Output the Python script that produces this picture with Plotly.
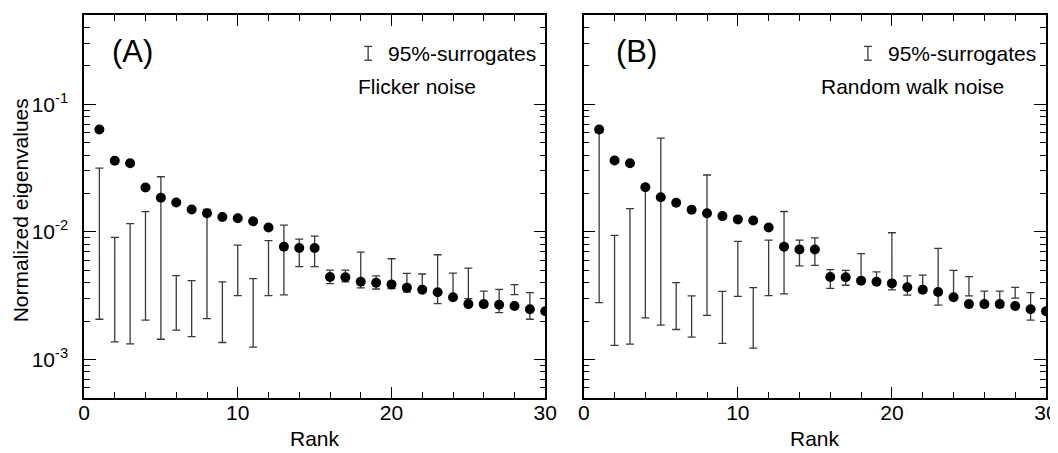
import numpy as np
import plotly.graph_objects as go
from plotly.subplots import make_subplots

rank = list(range(1, 31))

# Panel A: Flicker noise
eig_a = [0.0634, 0.0361, 0.0345, 0.0223, 0.0185, 0.0170, 0.0150, 0.0140, 0.0131, 0.0128,
         0.0121, 0.01083, 0.00766, 0.00748, 0.00748, 0.00443, 0.00441, 0.00407, 0.0040, 0.00388,
         0.00366, 0.00353, 0.00337, 0.00308, 0.00272, 0.00272, 0.00269, 0.00263, 0.00248, 0.00239]
sur_lo_a = [0.00207, 0.001375, 0.001327, 0.00204, 0.001442, 0.001698, 0.001514, 0.00209, 0.00136, 0.00317,
            0.00125, 0.00317, 0.00321, 0.00535, 0.00535, 0.00393, 0.00406, 0.00364, 0.00357, 0.0036,
            0.00338, 0.0034, 0.00274, 0.0030, 0.00300, 0.0026, 0.00233, 0.00323, 0.00207, None]
sur_hi_a = [0.0316, 0.00906, 0.01159, 0.01439, 0.02704, 0.00454, 0.00415, 0.0150, 0.00406, 0.00788,
            0.00430, 0.00853, 0.0113, 0.00879, 0.00927, 0.00502, 0.00502, 0.00695, 0.00452, 0.00616,
            0.00473, 0.00468, 0.00662, 0.00476, 0.00521, 0.00344, 0.00355, 0.00386, 0.00334, None]

# Panel B: Random walk noise
eig_b = [0.0634, 0.0363, 0.0345, 0.0224, 0.0187, 0.0169, 0.0149, 0.0140, 0.0133, 0.01253,
         0.0123, 0.01083, 0.00766, 0.00729, 0.00729, 0.00443, 0.00441, 0.00415, 0.00407, 0.00395,
         0.00368, 0.00353, 0.00338, 0.00308, 0.00272, 0.00272, 0.00272, 0.00263, 0.00248, 0.00239]
sur_lo_b = [0.00279, 0.00129, 0.00132, 0.00212, 0.00186, 0.00172, 0.00150, 0.00222, 0.00134, 0.00313,
            0.00123, 0.00317, 0.00327, 0.00541, 0.00547, 0.00361, 0.00382, 0.0041, 0.0040, 0.00351,
            0.0032, 0.0034, 0.00267, 0.0030, 0.00315, 0.0026, 0.0026, 0.00303, 0.00204, None]
sur_hi_b = [0.060, 0.00940, 0.0152, 0.022, 0.0542, 0.00400, 0.00315, 0.0279, 0.00342, 0.00843,
            0.00366, 0.00863, 0.01445, 0.00863, 0.00899, 0.00506, 0.00500, 0.00675, 0.00486, 0.00985,
            0.00452, 0.00459, 0.00744, 0.00500, 0.00446, 0.00344, 0.00344, 0.00368, 0.00334, None]

panel_labels = ["(A)", "(B)"]
noise_labels = ["Flicker noise", "Random walk noise"]
legend_label = "95%-surrogates"
x_title = "Rank"
y_title = "Normalized eigenvalues"

# page layout (the html body has an 8px margin, so the figure starts at (8, 8))
OFF = 8
W, H = 1058 - OFF, 453 - OFF
left_px, right_px, top_px, bottom_px = 84, 1046.5, 14.7, 397.7
ml = left_px - OFF
mt = top_px - OFF
mr = (W + OFF) - right_px
mb = (H + OFF) - bottom_px
pw = W - ml - mr
ph = H - mt - mb
dA = [0, (545.5 - left_px) / pw]
dB = [(584 - left_px) / pw, 1]

fig = make_subplots(rows=1, cols=2)
FONT = "Liberation Sans, Arial, Helvetica, sans-serif"
BAR_COL = "#3a3a3a"
FS = 21

panels = [(eig_a, sur_lo_a, sur_hi_a), (eig_b, sur_lo_b, sur_hi_b)]
for i, (eig, lo, hi) in enumerate(panels):
    col = i + 1
    minus = [(h - l) if (h is not None and l is not None) else None for h, l in zip(hi, lo)]
    fig.add_trace(go.Scatter(
        x=rank, y=hi, mode="markers",
        marker=dict(size=1, color="rgba(0,0,0,0)"),
        error_y=dict(type="data", symmetric=False, array=[0] * len(rank), arrayminus=minus,
                     color=BAR_COL, thickness=1.3, width=4),
        showlegend=False, hoverinfo="skip"), row=1, col=col)
    fig.add_trace(go.Scatter(
        x=rank, y=eig, mode="markers",
        marker=dict(size=10, color="black", line=dict(width=0)),
        showlegend=False), row=1, col=col)

minor_y = [k * 10.0 ** e for e in range(-4, 0) for k in range(2, 10) if 5e-4 < k * 10.0 ** e < 0.5]

for i, dom in enumerate([dA, dB]):
    xa = "xaxis" if i == 0 else "xaxis2"
    ya = "yaxis" if i == 0 else "yaxis2"
    fig.update_layout(**{
        xa: dict(domain=dom, range=[0, 30], tickvals=[0, 10, 20, 30], ticks="inside",
                 ticklen=11, tickwidth=1.2, tickcolor="black", showline=True, linecolor="black",
                 linewidth=1.5, mirror="ticks", showgrid=False, zeroline=False, automargin=False,
                 minor=dict(tickvals=list(range(2, 30, 2)), ticks="inside", ticklen=6,
                            tickwidth=1.2, tickcolor="black", showgrid=False),
                 tickfont=dict(size=FS, color="black", family=FONT),
                 ticklabelstandoff=-5),
        ya: dict(domain=[0, 1], type="log", range=[np.log10(5e-4), np.log10(0.5)],
                 tickvals=[1e-3, 1e-2, 1e-1],
                 ticktext=["10<sup>-3</sup>", "10<sup>-2</sup>", "10<sup>-1</sup>"],
                 ticks="inside", ticklen=12, tickwidth=1.2, tickcolor="black",
                 showline=True, linecolor="black", linewidth=1.5, mirror="ticks",
                 showgrid=False, zeroline=False, showticklabels=(i == 0), automargin=False,
                 minor=dict(tickvals=minor_y, ticks="inside", ticklen=6, tickwidth=1.2,
                            tickcolor="black", showgrid=False),
                 tickfont=dict(size=FS, color="black", family=FONT),
                 ticklabelstandoff=10),
    })

# axis titles (positions given in page pixels)
fig.add_annotation(x=(20 - left_px) / pw, y=(bottom_px - 210) / ph, xref="paper", yref="paper",
                   text=y_title, textangle=-90, showarrow=False, xanchor="center", yanchor="middle",
                   font=dict(size=FS, color="black", family=FONT))
for i, dom in enumerate([dA, dB]):
    fig.add_annotation(x=(dom[0] + dom[1]) / 2, y=-(438 - bottom_px) / ph, xref="paper", yref="paper",
                       text=x_title, showarrow=False, xanchor="center", yanchor="middle",
                       font=dict(size=FS, color="black", family=FONT))

for i in range(2):
    xr = "x domain" if i == 0 else "x2 domain"
    yr = "y domain" if i == 0 else "y2 domain"
    fig.add_annotation(x=[0.0557, 0.0664][i], y=0.904, xref=xr, yref=yr, text=panel_labels[i],
                       showarrow=False, xanchor="left", yanchor="middle",
                       font=dict(size=31, color="black", family=FONT))
    icon_x = [0.616, 0.6147][i]
    fig.add_shape(type="line", xref=xr, yref=yr, x0=icon_x, x1=icon_x, y0=0.882, y1=0.918,
                  line=dict(color=BAR_COL, width=1.3))
    for yy in (0.882, 0.918):
        fig.add_shape(type="line", xref=xr, yref=yr, x0=icon_x - 0.0085, x1=icon_x + 0.0085,
                      y0=yy, y1=yy, line=dict(color=BAR_COL, width=1.3))
    fig.add_annotation(x=[0.654, 0.653][i], y=0.899, xref=xr, yref=yr, text=legend_label,
                       showarrow=False, xanchor="left", yanchor="middle",
                       font=dict(size=FS, color="black", family=FONT))
    fig.add_annotation(x=[0.589, 0.510][i], y=0.814, xref=xr, yref=yr, text=noise_labels[i],
                       showarrow=False, xanchor="left", yanchor="middle",
                       font=dict(size=FS, color="black", family=FONT))

fig.update_layout(width=W, height=H, margin=dict(l=ml, r=mr, t=mt, b=mb, autoexpand=False),
                  paper_bgcolor="white", plot_bgcolor="white",
                  font=dict(family=FONT, color="black"), showlegend=False)

fig.write_html("out.html")
